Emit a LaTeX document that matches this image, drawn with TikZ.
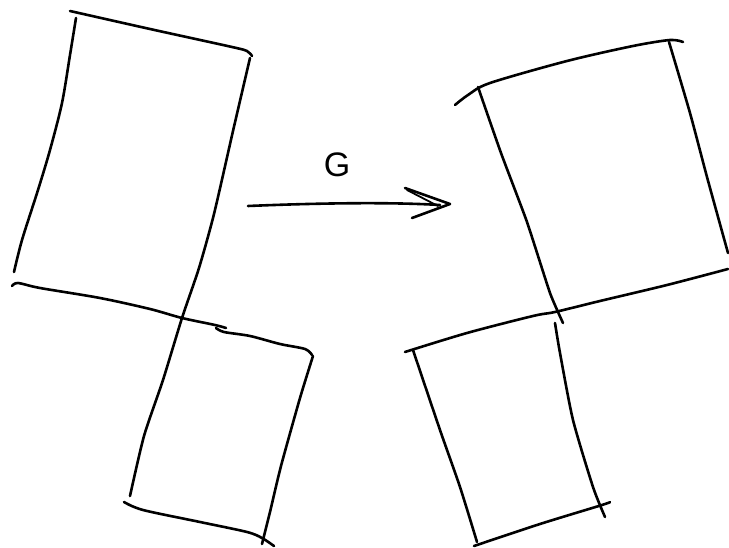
\documentclass[tikz,border=0pt]{standalone}
\usepackage{fontspec}
\newfontfamily\handfont{Liberation Sans}
\begin{document}
\begin{tikzpicture}[x=1pt,y=-1pt,
  pen/.style={line width=2.6pt, line cap=round, line join=round},
  lbl/.style={font=\handfont\fontsize{34}{36}\selectfont, inner sep=0pt}]
\useasboundingbox (0,0) rectangle (729,548);
% ---- left figure ----
% big piece
\draw[pen] plot[smooth, tension=0.5] coordinates {(70,11) (150,29) (232,47) (247,51) (252,56)};
\draw[pen] plot[smooth, tension=0.5] coordinates {(76,18) (70,55) (62,103) (50,150) (38,190) (22,240) (14,272)};
\draw[pen] plot[smooth, tension=0.5] coordinates {(12,286) (18,283) (40,288) (100,298) (150,309) (182,318) (215,325) (226,328)};
\draw[pen] plot[smooth, tension=0.5] coordinates {(216,328) (224,332) (250,336) (280,344) (305,349) (312,355)};
\draw[pen] plot[smooth, tension=0.4] coordinates {(250,58) (233,131) (214,214) (199,268) (182,318) (163,380) (144,436) (130,496)};
% small piece
\draw[pen] plot[smooth, tension=0.4] coordinates {(313,356) (300,398) (281,466) (270,512) (262,544)};
\draw[pen] plot[smooth, tension=0.5] coordinates {(124,502) (143,510) (200,522) (247,532) (262,538) (274,546)};
% ---- arrow and label ----
\coordinate (a1) at (248,206);
\coordinate (a2) at (440,205);
\coordinate (h1) at (405,188);
\coordinate (tip) at (450,204);
\coordinate (h2) at (412,218);
\draw[pen] (a1) .. controls (320,203) and (390,202) .. (a2);
\draw[pen] (h1) -- (tip) -- (h2);
\draw[pen, line width=1.8pt] (407,190) -- (438,206);
\node[lbl] (G) at (337,165) {G};
% ---- right figure ----
\draw[pen] plot[smooth, tension=0.5] coordinates {(455,105) (468,95) (490,83) (567,61) (633,46) (670,40) (683,42)};
\draw[pen] plot[smooth, tension=0.3] coordinates {(478,87) (501,153) (527,222) (550,293) (563,323)};
\draw[pen] plot[smooth, tension=0.4] coordinates {(669,42) (690,113) (707,177) (728,253)};
\draw[pen] plot[smooth, tension=0.5] coordinates {(405,352) (467,333) (533,316) (555,312) (600,301) (667,285) (728,269)};
% small piece
\draw[pen] plot[smooth, tension=0.4] coordinates {(413,350) (440,430) (460,487) (477,542)};
\draw[pen] plot[smooth, tension=0.4] coordinates {(555,323) (560,353) (573,420) (593,487) (605,517)};
\draw[pen] plot[smooth, tension=0.5] coordinates {(474,546) (540,524) (602,505) (610,502)};
\end{tikzpicture}
\end{document}
